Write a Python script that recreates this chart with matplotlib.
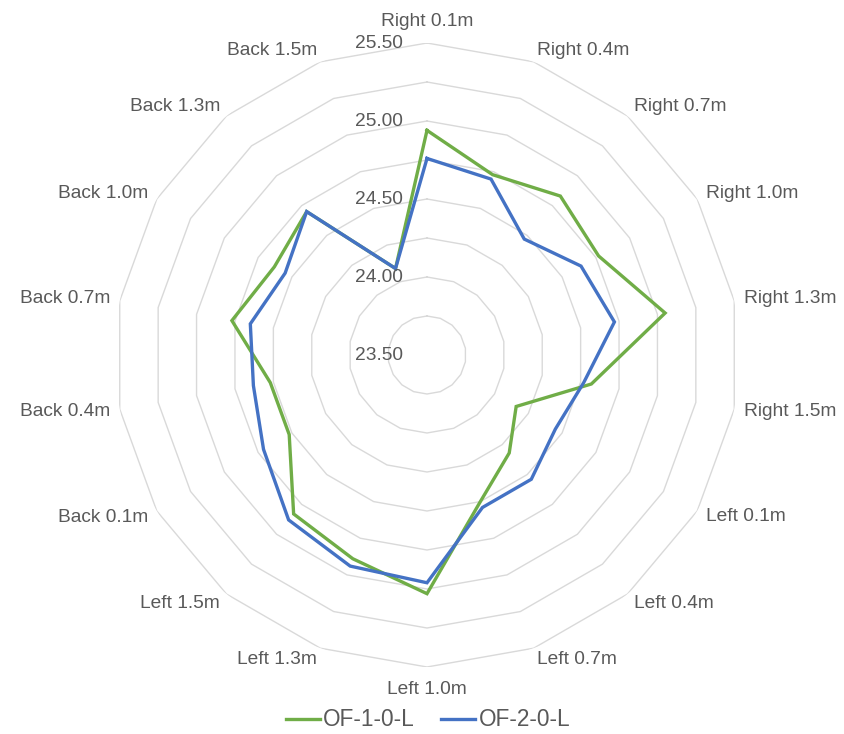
import numpy as np
import matplotlib
matplotlib.use("Agg")
import matplotlib.pyplot as plt
from matplotlib.lines import Line2D

plt.rcParams['font.family'] = ['Liberation Sans', 'DejaVu Sans']

categories = ["Right 0.1m", "Right 0.4m", "Right 0.7m", "Right 1.0m", "Right 1.3m", "Right 1.5m",
              "Left 0.1m", "Left 0.4m", "Left 0.7m", "Left 1.0m", "Left 1.3m", "Left 1.5m",
              "Back 0.1m", "Back 0.4m", "Back 0.7m", "Back 1.0m", "Back 1.3m", "Back 1.5m"]
of_1_0_l = [24.94, 24.73, 24.83, 24.77, 25.05, 24.57, 24.16, 24.32, 24.50, 25.03,
            24.89, 24.83, 24.52, 24.52, 24.77, 24.63, 24.70, 24.09]
of_2_0_l = [24.76, 24.70, 24.47, 24.64, 24.72, 24.52, 24.45, 24.54, 24.54, 24.96,
            24.94, 24.88, 24.71, 24.63, 24.65, 24.55, 24.70, 24.09]
series_names = ["OF-1-0-L", "OF-2-0-L"]
tick_values = [23.50, 24.00, 24.50, 25.00, 25.50]
grid_values = [23.75, 24.00, 24.25, 24.50, 24.75, 25.00, 25.25, 25.50]
r_min, r_max = 23.5, 25.5

colors = ["#70AD47", "#4472C4"]
text_color = "#595959"
grid_color = "#D9D9D9"
fs = 13.8
fs_leg = 16.3

W, H = 845, 734
fig = plt.figure(figsize=(W / 100, H / 100), dpi=100)
cx, cy, R = 427, 355, 312
ax = fig.add_axes([(cx - R) / W, (H - cy - R) / H, 2 * R / W, 2 * R / H], projection='polar')
ax.set_theta_zero_location('N')
ax.set_theta_direction(-1)
ax.set_ylim(r_min, r_max)
ax.grid(False)
ax.spines['polar'].set_visible(False)
ax.set_xticks([])
ax.set_yticks([])
ax.patch.set_alpha(0)

n = len(categories)
theta = np.arange(n) * 2 * np.pi / n
theta_c = np.append(theta, theta[0])

for gv in grid_values:
    ax.plot(theta_c, [gv] * (n + 1), color=grid_color, lw=1.0, zorder=1)

for vals, col in zip([of_1_0_l, of_2_0_l], colors):
    v = np.append(vals, vals[0])
    ax.plot(theta_c, v, color=col, lw=2.4, zorder=3, solid_joinstyle='miter')

# radial tick labels
for tv in tick_values:
    ax.annotate(f"{tv:.2f}", xy=(0, tv), xytext=(-24, 0), textcoords='offset pixels',
                ha='right', va='center', fontsize=fs, color=text_color, zorder=4)

# category labels
for th, lab in zip(theta, categories):
    s, c = np.sin(th), np.cos(th)
    if abs(s) < 0.05:
        ha = 'center'
        dx, dy = 0, 22 * c
    else:
        ha = 'left' if s > 0 else 'right'
        dx, dy = 10 * s, 12 * c
    ax.annotate(lab, xy=(th, r_max), xytext=(dx, dy), textcoords='offset pixels',
                ha=ha, va='center', fontsize=fs, color=text_color, annotation_clip=False)

handles = [Line2D([0], [0], color=col, lw=2.4) for col in colors]
fig.legend(handles, series_names, loc='center', bbox_to_anchor=(428 / W, 1 - 720 / H),
           ncol=2, frameon=False, fontsize=fs_leg, labelcolor=text_color,
           handlelength=1.5, handletextpad=0.15, columnspacing=1.15,
           borderpad=0.0)

fig.savefig("out.png", dpi=100)
